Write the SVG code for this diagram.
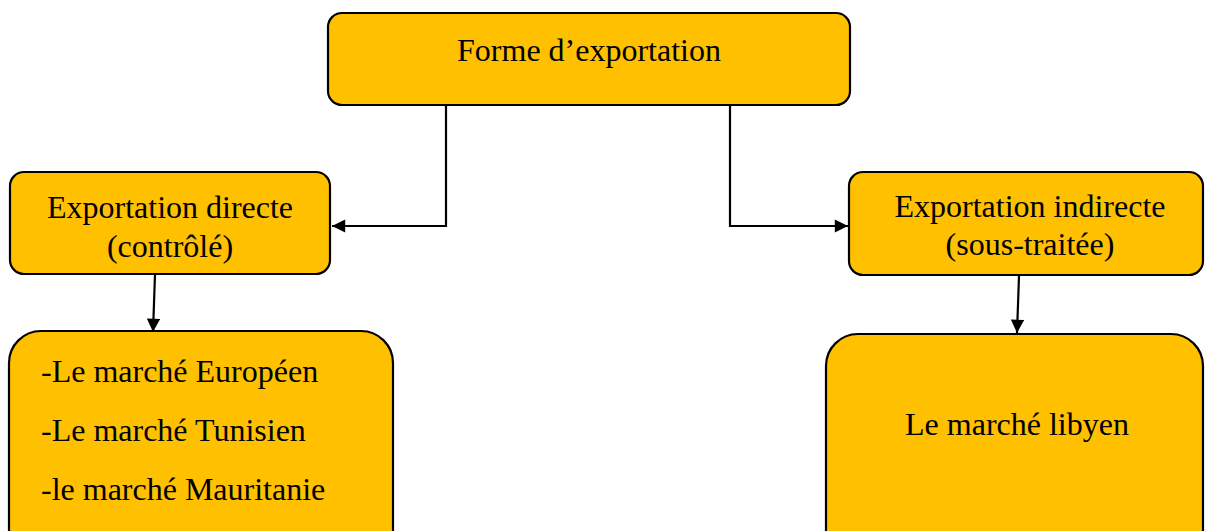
<svg xmlns="http://www.w3.org/2000/svg" width="1205" height="531" viewBox="0 0 1205 531">
<style>
.box{fill:#FFC000;stroke:#000;stroke-width:2.2}
.t{font-family:"Liberation Serif","Times New Roman",serif;font-size:32px;fill:#000}
.c{text-anchor:middle}
.line{fill:none;stroke:#000;stroke-width:2.2}
</style>
<defs>
<marker id="ah" viewBox="0 0 10 10" refX="10" refY="5" markerWidth="6.5" markerHeight="6" markerUnits="strokeWidth" orient="auto">
<path d="M0,0 L10,5 L0,10 Z" fill="#000"/>
</marker>
</defs>
<rect width="1205" height="531" fill="#fff"/>
<g id="connectors">
<path class="line" d="M446,105 V226 H332" marker-end="url(#ah)"/>
<path class="line" d="M730,105 V226 H848" marker-end="url(#ah)"/>
<path class="line" d="M155,274 L153,332" marker-end="url(#ah)"/>
<path class="line" d="M1019,276 L1017,333" marker-end="url(#ah)"/>
</g>
<g id="forme">
<rect class="box" x="328" y="13" width="522" height="92" rx="14"/>
<text class="t c" x="589" y="61">Forme d’exportation</text>
</g>
<g id="directe">
<rect class="box" x="10" y="172" width="320" height="102" rx="14"/>
<text class="t c" x="170" y="218">Exportation directe</text>
<text class="t c" x="170" y="257">(contrôlé)</text>
</g>
<g id="indirecte">
<rect class="box" x="849" y="172" width="354" height="103" rx="14"/>
<text class="t c" x="1030" y="217">Exportation indirecte</text>
<text class="t c" x="1030" y="255">(sous-traitée)</text>
</g>
<g id="marches-directs">
<rect class="box" x="9" y="331" width="384" height="240" rx="32"/>
<text class="t" x="41" y="382">-Le marché Européen</text>
<text class="t" x="41" y="441">-Le marché Tunisien</text>
<text class="t" x="41" y="500">-le marché Mauritanie</text>
</g>
<g id="marche-libyen">
<rect class="box" x="826" y="334" width="377" height="240" rx="32"/>
<text class="t c" x="1017" y="435">Le marché libyen</text>
</g>
</svg>
